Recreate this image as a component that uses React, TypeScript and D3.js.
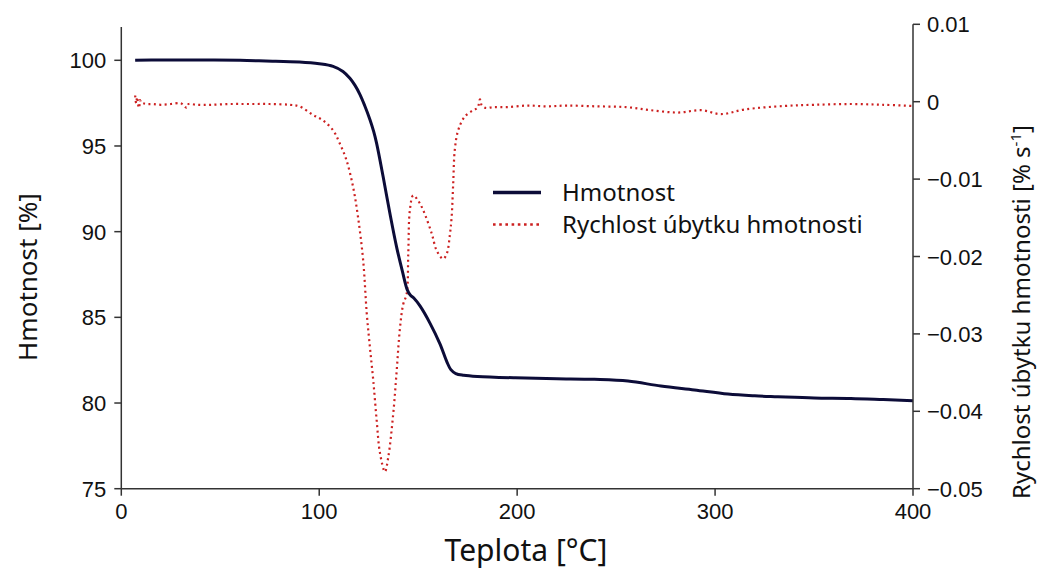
import React from 'react';
import { scaleLinear, line, curveCatmullRom } from 'd3';

const width = 1038;
const height = 570;

// temperature [°C] / mass [%]
const massTemp = [7, 20, 40, 60, 73, 90, 100, 107, 112, 115.5, 118, 120.6, 123, 125.6, 127.5, 129, 132.3, 135.7, 139.1, 142, 144.5, 146, 148, 151, 156, 161, 164.5, 166.5, 169, 173, 180, 199, 220, 239, 256, 272.6, 289.6, 306.5, 320, 331.7, 350, 368.6, 385, 400];
const massValues = [100.0, 100.02, 100.02, 100.0, 99.96, 99.9, 99.8, 99.65, 99.35, 98.95, 98.55, 98.0, 97.35, 96.55, 95.85, 95.15, 93.2, 91.07, 89.1, 87.7, 86.6, 86.3, 86.1, 85.65, 84.65, 83.45, 82.4, 81.95, 81.72, 81.62, 81.55, 81.47, 81.42, 81.38, 81.28, 80.99, 80.76, 80.52, 80.42, 80.37, 80.3, 80.27, 80.2, 80.13];

// temperature [°C] / mass loss rate [% s-1]
const rateTemp = [7, 7.5, 8, 8.5, 9, 9.5, 10, 11, 13, 16, 20, 25, 30, 32, 33, 34, 38, 45, 55, 65, 75, 85, 90, 96.8, 101.8, 107, 110.4, 113.7, 117.1, 119.6, 122.2, 124, 125.6, 127.3, 129, 130.7, 133.2, 134.9, 137.4, 139.1, 140.7, 142.4, 144.2, 145, 145.8, 147.5, 150, 152.5, 156.8, 159.3, 162.6, 164.5, 166, 166.9, 167.7, 168.5, 170.2, 173.6, 177.8, 180, 181.2, 182, 184, 188, 195, 205, 215, 225, 240, 255, 267.6, 281, 293, 303, 315, 335, 350, 368.6, 385, 400];
const rateValues = [0.0008, -0.0002, 0.0006, -0.0004, -0.0008, 0.0002, -0.0001, -0.0002, -0.0003, -0.0003, -0.0004, -0.0003, -0.0002, -0.0006, -0.0008, -0.0003, -0.0004, -0.0004, -0.0003, -0.0003, -0.0003, -0.0004, -0.0006, -0.0017, -0.0024, -0.0037, -0.0054, -0.0075, -0.011, -0.0149, -0.0205, -0.0273, -0.0317, -0.036, -0.0411, -0.0454, -0.0478, -0.0459, -0.0403, -0.0349, -0.0295, -0.0262, -0.0248, -0.0195, -0.014, -0.0121, -0.0128, -0.014, -0.017, -0.0192, -0.0203, -0.0196, -0.0172, -0.0149, -0.0105, -0.0062, -0.0037, -0.0019, -0.0011, -0.0008, 0.0003, -0.0004, -0.0008, -0.0007, -0.0007, -0.0005, -0.0006, -0.0005, -0.0006, -0.0007, -0.0011, -0.0014, -0.0011, -0.0016, -0.001, -0.00055, -0.0004, -0.0003, -0.0004, -0.00055];

const xTicks = [0, 100, 200, 300, 400];
const massTicks = [75, 80, 85, 90, 95, 100];
const rateTicks = [0.01, 0, -0.01, -0.02, -0.03, -0.04, -0.05];

const seriesNames = ['Hmotnost', 'Rychlost úbytku hmotnosti'];

const tickFont = '"Liberation Sans", Arial, sans-serif';
const titleFont = '"Noto Sans", "Open Sans", sans-serif';
const axisColor = '#333';
const massColor = '#0c0c38';
const rateColor = '#cc2020';

const fmtRate = (v: number) => (v < 0 ? '\u2212' + String(-v) : String(v));

export default function App() {
  const x = scaleLinear().domain([0, 400]).range([121.3, 913]);
  const yMass = scaleLinear().domain([75, 100]).range([488.7, 60.3]);
  const yRate = scaleLinear().domain([-0.05, 0.01]).range([488.7, 24.3]);

  const massLine = line<number>()
    .x((d, i) => x(massTemp[i]))
    .y((d) => yMass(d))
    .curve(curveCatmullRom.alpha(0.5));

  const rateLine = line<number>()
    .x((d, i) => x(rateTemp[i]))
    .y((d) => yRate(d))
    .curve(curveCatmullRom.alpha(0.5));

  const bottom = yMass(75);
  const left = x(0);
  const right = x(400);

  return (
    <svg width={width} height={height} style={{ position: 'absolute', left: 0, top: 0, background: '#fff' }}>
      {/* data */}
      <path d={rateLine(rateValues) || ''} fill="none" stroke={rateColor} strokeWidth={2.2} strokeDasharray="2 3.4" />
      <path d={massLine(massValues) || ''} fill="none" stroke={massColor} strokeWidth={3} />

      {/* x axis */}
      <line x1={left} x2={right} y1={bottom} y2={bottom} stroke={axisColor} strokeWidth={1.5} />
      {xTicks.map((t) => (
        <g key={'x' + t}>
          <line x1={x(t)} x2={x(t)} y1={bottom} y2={bottom + 7} stroke={axisColor} strokeWidth={1.5} />
          <text x={x(t)} y={bottom + 30} textAnchor="middle" fontFamily={tickFont} fontSize={22} fill="#111">{t}</text>
        </g>
      ))}

      {/* left axis */}
      <line x1={left} x2={left} y1={bottom} y2={yMass(101.95)} stroke={axisColor} strokeWidth={1.5} />
      {massTicks.map((t) => (
        <g key={'m' + t}>
          <line x1={left - 7} x2={left} y1={yMass(t)} y2={yMass(t)} stroke={axisColor} strokeWidth={1.5} />
          <text x={left - 15} y={yMass(t) + 8} textAnchor="end" fontFamily={tickFont} fontSize={22} fill="#111">{t}</text>
        </g>
      ))}

      {/* right axis */}
      <line x1={right} x2={right} y1={bottom} y2={yRate(0.01)} stroke={axisColor} strokeWidth={1.5} />
      {rateTicks.map((t) => (
        <g key={'r' + t}>
          <line x1={right} x2={right + 7} y1={yRate(t)} y2={yRate(t)} stroke={axisColor} strokeWidth={1.5} />
          <text x={right + 14} y={yRate(t) + 8} textAnchor="start" fontFamily={tickFont} fontSize={22} fill="#111">{fmtRate(t)}</text>
        </g>
      ))}

      {/* titles */}
      <text x={526} y={561} textAnchor="middle" fontFamily={titleFont} fontSize={30} fill="#111">Teplota [°C]</text>
      <text transform="translate(37,277) rotate(-90)" textAnchor="middle" fontFamily={titleFont} fontSize={26} fill="#111">Hmotnost [%]</text>
      <text transform="translate(1030,312) rotate(-90)" textAnchor="middle" fontFamily={titleFont} fontSize={24} fill="#111">
        Rychlost úbytku hmotnosti [% s<tspan dy={-9} fontSize={15}>-1</tspan><tspan dy={9}>]</tspan>
      </text>

      {/* legend */}
      <line x1={493} x2={541} y1={192.5} y2={192.5} stroke={massColor} strokeWidth={3.5} />
      <text x={562} y={201} fontFamily={titleFont} fontSize={24} fill="#111">{seriesNames[0]}</text>
      <line x1={493} x2={541} y1={224.5} y2={224.5} stroke={rateColor} strokeWidth={2.6} strokeDasharray="2.6 3.6" />
      <text x={562} y={233} fontFamily={titleFont} fontSize={24} fill="#111">{seriesNames[1]}</text>
    </svg>
  );
}
